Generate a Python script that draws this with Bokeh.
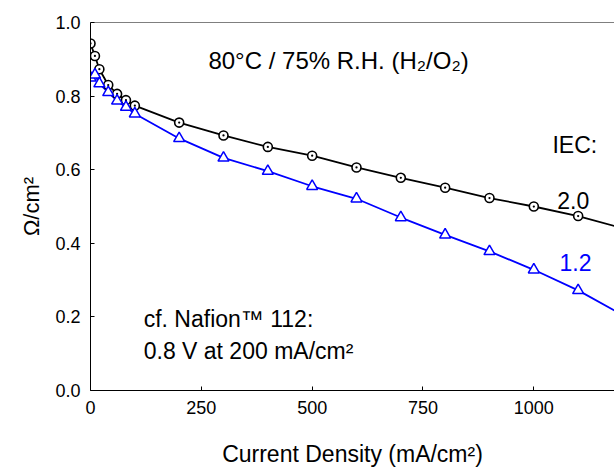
from bokeh.plotting import figure
from bokeh.models import Range1d, FixedTicker, NumeralTickFormatter, Label, Span, ColumnDataSource
from bokeh.embed import file_html
from bokeh.resources import INLINE

# ---- data ----
current = [0, 10, 20, 40, 60, 80, 100, 200, 300, 400, 500, 600, 700, 800, 900, 1000, 1100, 1200]
iec_20 = [0.943, 0.909, 0.873, 0.830, 0.806, 0.789, 0.774, 0.728, 0.693, 0.662, 0.638, 0.606,
          0.578, 0.551, 0.523, 0.500, 0.474, 0.441]
iec_12 = [0.850, 0.858, 0.834, 0.810, 0.787, 0.770, 0.752, 0.685, 0.632, 0.596, 0.555, 0.521,
          0.470, 0.423, 0.378, 0.328, 0.272, 0.205]
x_ticks = [0, 250, 500, 750, 1000]
y_ticks = [0.0, 0.2, 0.4, 0.6, 0.8, 1.0]

FONT = "Liberation Sans"

p = figure(width=614, height=469, output_backend="svg", toolbar_location=None,
           x_range=Range1d(0, 1182), y_range=Range1d(0, 1.0),
           min_border_left=90, min_border_right=0, min_border_top=22, min_border_bottom=76)
p.outline_line_color = None
p.xgrid.visible = False
p.ygrid.visible = False
p.background_fill_color = "white"
p.border_fill_color = "white"

src = ColumnDataSource(dict(x=current, a=iec_20, b=iec_12))

p.line("x", "a", source=src, line_color="black", line_width=1.8)
p.line("x", "b", source=src, line_color="#0000ff", line_width=1.8)
p.scatter("x", "a", source=src, marker="circle_dot", size=9, fill_color="white",
          line_color="black", line_width=1.6)
p.scatter("x", "b", source=src, marker="triangle", size=11, fill_color="white",
          line_color="#0000ff", line_width=1.5)

# top border
p.add_layout(Span(location=1.0, dimension="width", line_color="black", line_width=1))

for ax in (p.xaxis[0], p.yaxis[0]):
    ax.axis_line_color = "black"
    ax.axis_line_width = 1
    ax.major_tick_in = 4
    ax.major_tick_out = 0
    ax.minor_tick_line_color = None
    ax.major_label_text_font = FONT
    ax.major_label_text_font_size = "18px"
    ax.major_label_text_color = "black"
    ax.axis_label_text_font = FONT
    ax.axis_label_text_font_style = "normal"
    ax.axis_label_text_color = "black"

p.xaxis.ticker = FixedTicker(ticks=x_ticks)
p.yaxis.ticker = FixedTicker(ticks=y_ticks)
p.xaxis.formatter = NumeralTickFormatter(format="0")
p.yaxis.formatter = NumeralTickFormatter(format="0.0")
p.xaxis.major_label_standoff = 10
p.yaxis.major_label_standoff = 10

p.xaxis.axis_label = "Current Density (mA/cm²)"
p.xaxis.axis_label_text_font_size = "23px"
p.xaxis.axis_label_standoff = 24
p.yaxis.axis_label = "Ω/cm²"
p.yaxis.axis_label_text_font_size = "22px"
p.yaxis.axis_label_standoff = 8


def lab(x, y, t, size, color="black"):
    p.add_layout(Label(x=x, y=y, text=t, text_font=FONT, text_font_size=size,
                       text_color=color, text_baseline="alphabetic", text_align="left"))


lab(266, 0.896, "80°C / 75% R.H. (H₂/O₂)", "24px")
lab(1042, 0.667, "IEC:", "23px")
lab(1053, 0.517, "2.0", "23px")
lab(1058, 0.348, "1.2", "23px", "#0000ff")
lab(120, 0.195, "cf. Nafion™ 112:", "23px")
lab(120, 0.106, "0.8 V at 200 mA/cm²", "23px")

open("out.html", "w").write(file_html(p, INLINE))
